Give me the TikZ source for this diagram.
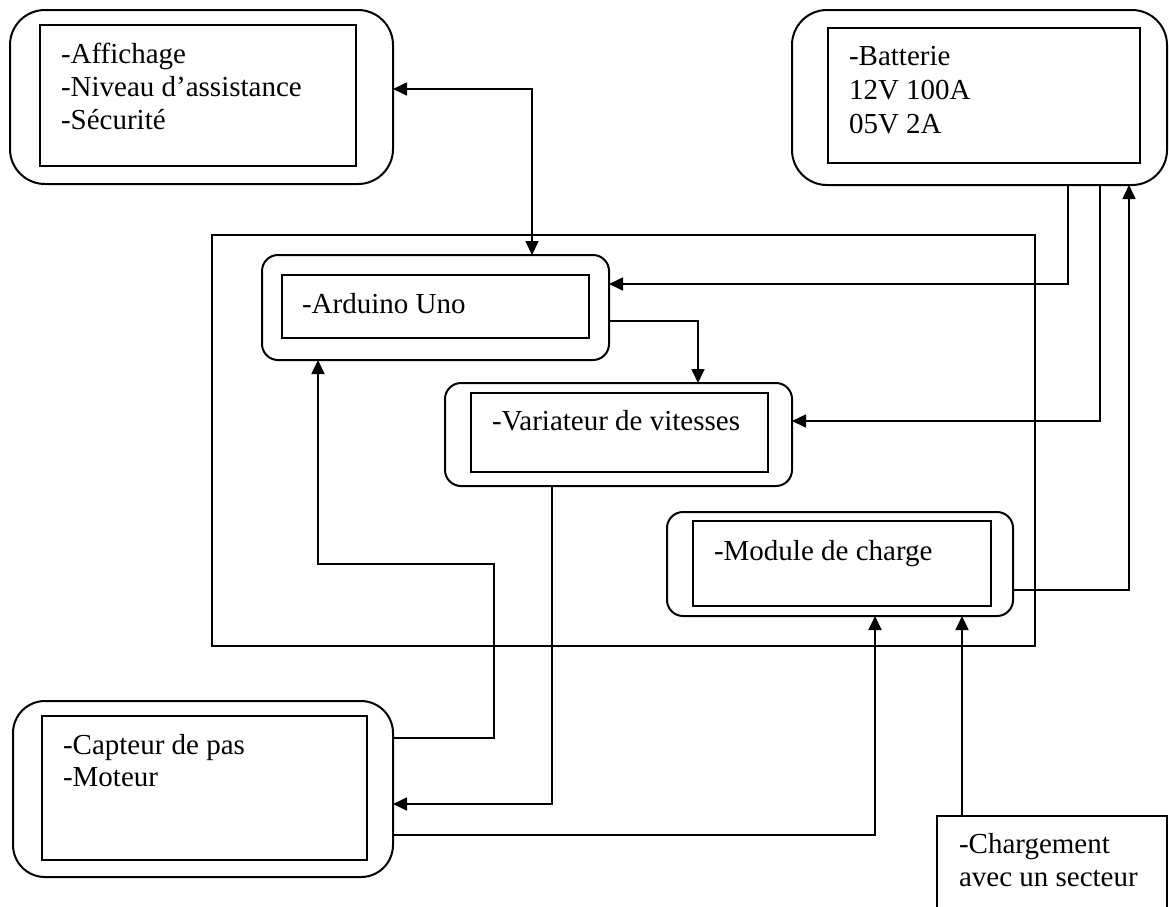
\documentclass[tikz,border=0pt]{standalone}
\usepackage{fontspec}
\setmainfont{Liberation Serif}
\usetikzlibrary{arrows.meta}
\tikzset{
  outerbox/.style={draw, line width=2pt, rounded corners=#1, inner sep=0pt, outer sep=0pt},
  innerbox/.style={draw, line width=2pt, inner sep=0pt, outer sep=0pt},
  plainbox/.style={draw, line width=1.6pt, inner sep=0pt, outer sep=0pt},
  txt/.style={anchor=base west, inner sep=0pt, outer sep=0pt, font=\fontsize{29}{33}\selectfont},
  conn/.style={line width=1.7pt},
  tip/.tip={Triangle[length=14pt,width=13pt]},
}
\begin{document}
\begin{tikzpicture}[x=1pt,y=-1pt]
\useasboundingbox[fill=white] (0,0) rectangle (1169,906);

% big frame
\node[plainbox, minimum width=823pt, minimum height=411pt] (ctrl) at (623.5,440.5) {};

% display box
\node[outerbox=35pt, minimum width=383pt, minimum height=174pt] (disp) at (201.5,97) {};
\node[innerbox, minimum width=316pt, minimum height=141pt] (dispin) at (198,95.5) {};
\node[txt] (t1) at (61,63) {-Affichage};
\node[txt] (t2) at (61,96) {-Niveau d’assistance};
\node[txt] (t3) at (61,129) {-Sécurité};

% battery box
\node[outerbox=35pt, minimum width=375pt, minimum height=175pt] (bat) at (979.5,97.5) {};
\node[innerbox, minimum width=312pt, minimum height=135pt] (batin) at (984,95.5) {};
\node[txt] (b1) at (849,65) {-Batterie};
\node[txt] (b2) at (849,99) {12V 100A};
\node[txt] (b3) at (849,133) {05V 2A};

% arduino
\node[outerbox=16pt, minimum width=347pt, minimum height=105pt] (ard) at (435.5,307.5) {};
\node[innerbox, minimum width=307pt, minimum height=63pt] (ardin) at (435.5,306.5) {};
\node[txt] (a1) at (302,313) {-Arduino Uno};

% variateur
\node[outerbox=16pt, minimum width=347pt, minimum height=103pt] (var) at (618.5,434.5) {};
\node[innerbox, minimum width=297pt, minimum height=79pt] (varin) at (619.5,432.5) {};
\node[txt] (v1) at (492,430) {-Variateur de vitesses};

% module de charge
\node[outerbox=16pt, minimum width=346pt, minimum height=104pt] (mod) at (840,564) {};
\node[innerbox, minimum width=298pt, minimum height=85pt] (modin) at (842,563.5) {};
\node[txt] (m1) at (714,560) {-Module de charge};

% capteur / moteur
\node[outerbox=32pt, minimum width=380pt, minimum height=176pt] (cap) at (203,789) {};
\node[innerbox, minimum width=325pt, minimum height=144pt] (capin) at (204.5,788) {};
\node[txt] (c1) at (63,754) {-Capteur de pas};
\node[txt] (c2) at (63,786) {-Moteur};

% chargement
\node[plainbox, minimum width=230pt, minimum height=124pt] (chg) at (1052,878) {};
\node[txt] (g1) at (959,853) {-Chargement};
\node[txt] (g2) at (959,886) {avec un secteur};

\coordinate (bend) at (494,564);

% connectors
\draw[conn, tip-tip] ([yshift=8pt]disp.east) -| ([xshift=96.5pt]ard.north);
\draw[conn, -tip] ([xshift=88.5pt]bat.south) |- ([yshift=23.5pt]ard.east);
\draw[conn, -tip] ([xshift=120.5pt]bat.south) |- ([yshift=13.5pt]var.east);
\draw[conn, -tip] ([yshift=-26pt]mod.east) -| ([xshift=149.5pt]bat.south);
\draw[conn, -tip] ([yshift=-13.5pt]ard.east) -| ([xshift=79.5pt]var.north);
\draw[conn, -tip] ([yshift=51pt]cap.east) -| (bend) -| ([xshift=-117.5pt]ard.south);
\draw[conn, -tip] ([xshift=-66.5pt]var.south) |- ([yshift=-15pt]cap.east);
\draw[conn, -tip] ([yshift=-46pt]cap.east) -| ([xshift=35pt]mod.south);
\draw[conn, -tip] ([xshift=-90pt]chg.north) -- ([xshift=122pt]mod.south);
\end{tikzpicture}
\end{document}
